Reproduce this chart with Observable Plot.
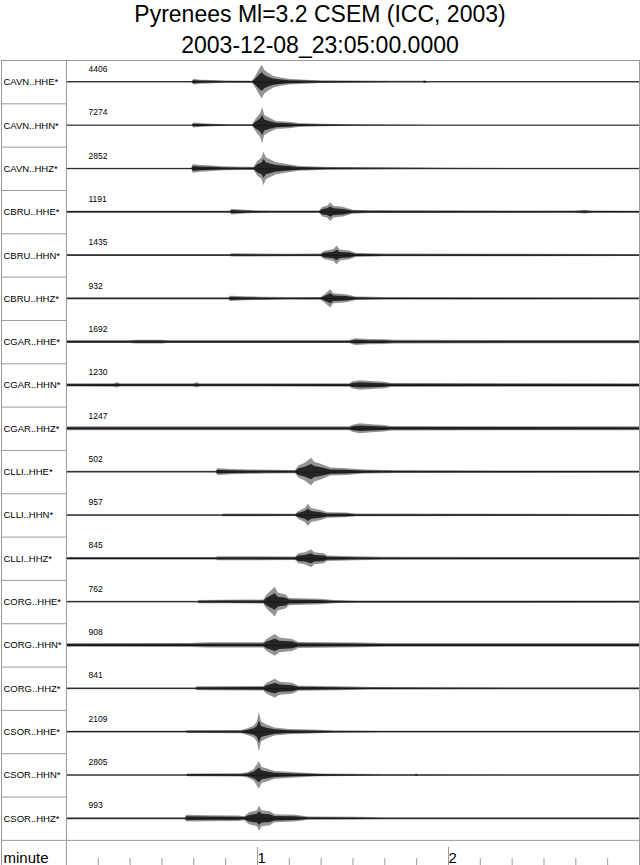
<!DOCTYPE html>
<html><head><meta charset="utf-8">
<script src="https://cdn.jsdelivr.net/npm/d3@7"></script>
<script src="https://cdn.jsdelivr.net/npm/@observablehq/plot@0.6"></script>
<style>
body{margin:0;background:#fff;}
#title{height:59px;font-family:"Liberation Sans",Arial,sans-serif;font-size:23px;text-align:center;line-height:31px;color:#000;white-space:nowrap;}
#title div{position:relative;top:-1px;}
#chart svg{display:block;}
</style></head><body>
<div id="title"><div>Pyrenees Ml=3.2 CSEM (ICC, 2003)</div><div>2003-12-08_23:05:00.0000</div></div>
<div id="chart"></div>
<script>
// Station / channel labels (top to bottom)
const stations = ["CAVN..HHE*","CAVN..HHN*","CAVN..HHZ*","CBRU..HHE*","CBRU..HHN*","CBRU..HHZ*",
  "CGAR..HHE*","CGAR..HHN*","CGAR..HHZ*","CLLI..HHE*","CLLI..HHN*","CLLI..HHZ*",
  "CORG..HHE*","CORG..HHN*","CORG..HHZ*","CSOR..HHE*","CSOR..HHN*","CSOR..HHZ*"];
// Maximum counts printed above each trace
const maxCounts = [4406,7274,2852,1191,1435,932,1692,1230,1247,502,957,845,762,908,841,2109,2805,993];

// Envelope of each trace: [seconds after 23:05:00, relative half-amplitude]
const envCAVN_HHE = [[0,.03],[39.5,.03],[40,.14],[42,.1],[46,.08],[50,.06],[58.5,.05],[59.5,.3],[60.5,.6],[61.5,.85],[62.3,.6],[63.5,.45],[65,.3],[67,.22],[70,.14],[75,.1],[80,.07],[90,.06],[103,.04],[112,.04],[112.7,.07],[113.5,.03],[180,.03]];
const envCAVN_HHN = [[0,.03],[39.5,.03],[40,.12],[43,.09],[46,.06],[52,.04],[58.5,.04],[59.5,.3],[61,.6],[61.6,.92],[62.3,.5],[64,.35],[66,.2],[70,.16],[73,.1],[80,.06],[90,.04],[115,.03],[180,.025]];
const envCAVN_HHZ = [[0,.03],[39.4,.03],[39.8,.22],[42,.17],[46,.14],[49,.1],[55,.08],[59,.08],[60,.35],[61.5,.55],[62,.85],[62.8,.55],[64,.45],[66,.3],[70,.2],[73,.12],[82,.07],[103,.05],[120,.035],[180,.03]];
const envCBRU_HHE = [[0,.05],[51.5,.05],[52,.14],[55,.11],[58.5,.07],[65,.06],[79.5,.06],[80.5,.25],[82,.3],[83,.47],[84,.3],[87,.25],[90,.1],[95,.07],[160,.06],[163,.09],[165,.06],[180,.05]];
const envCBRU_HHN = [[0,.05],[51.5,.05],[52,.08],[70,.06],[80,.07],[81,.2],[84,.3],[85,.48],[86,.28],[89,.22],[91,.1],[100,.07],[180,.05]];
const envCBRU_HHZ = [[0,.05],[51,.05],[51.6,.13],[56,.1],[61,.08],[70,.06],[80,.07],[81,.18],[83,.46],[84,.25],[88,.2],[91,.09],[100,.06],[180,.05]];
const envCGAR_HHE = [[0,.07],[20,.07],[22,.1],[30,.1],[32,.07],[89,.07],[90,.13],[91,.17],[95,.13],[100,.12],[103,.09],[180,.08]];
const envCGAR_HHN = [[0,.08],[15,.09],[16,.13],[17,.08],[40,.08],[41,.13],[42,.08],[89,.09],[90,.18],[92.3,.24],[96,.2],[100,.16],[102,.1],[180,.09]];
const envCGAR_HHZ = [[0,.1],[89,.1],[90,.18],[92.3,.25],[96,.2],[100,.16],[102,.11],[180,.1]];
const envCLLI_HHE = [[0,.04],[47,.04],[47.6,.17],[52,.13],[58,.11],[63,.09],[72,.08],[73,.3],[75,.45],[77,.7],[78,.5],[80,.4],[83,.2],[88,.17],[93.5,.1],[104,.07],[180,.05]];
const envCLLI_HHN = [[0,.04],[49,.04],[49.3,.07],[72,.06],[73,.2],[75,.35],[76,.56],[77,.35],[80,.25],[82,.14],[88,.12],[91,.07],[180,.05]];
const envCLLI_HHZ = [[0,.06],[47,.06],[47.6,.1],[72,.09],[73,.25],[75,.3],[77,.45],[78,.3],[81,.25],[82,.14],[91,.1],[100,.07],[180,.06]];
const envCORG_HHE = [[0,.04],[41.3,.04],[41.7,.08],[50,.09],[62,.1],[63,.35],[65.6,.75],[66.5,.45],[69,.35],[70,.18],[80,.14],[84,.08],[91,.06],[180,.05]];
const envCORG_HHN = [[0,.09],[39,.1],[45,.13],[62,.13],[63,.3],[65.6,.55],[67,.37],[71,.3],[73,.15],[91,.12],[100,.09],[180,.09]];
const envCORG_HHZ = [[0,.04],[40.7,.04],[41,.1],[62,.11],[63,.28],[65.6,.48],[67,.33],[71,.28],[73,.13],[86,.1],[95,.06],[180,.05]];
const envCSOR_HHE = [[0,.04],[37.5,.04],[38,.07],[55,.08],[57,.17],[59,.3],[60,.5],[60.6,1.0],[61.3,.5],[63,.35],[65.5,.2],[70,.13],[77,.1],[84,.06],[100,.04],[180,.04]];
const envCSOR_HHN = [[0,.03],[37.8,.03],[38.2,.07],[55,.08],[57,.13],[59,.3],[60.6,.68],[61.5,.4],[63,.33],[65.5,.2],[72,.13],[79.5,.07],[100,.04],[109.5,.04],[110,.07],[110.5,.04],[180,.03]];
const envCSOR_HHZ = [[0,.05],[37.4,.05],[37.8,.17],[45,.15],[54,.14],[56,.1],[57.5,.3],[60,.4],[60.6,.63],[61.5,.4],[64,.35],[65.5,.2],[72,.17],[76,.08],[91,.07],[100,.05],[180,.05]];

const envelopes = [envCAVN_HHE,envCAVN_HHN,envCAVN_HHZ,envCBRU_HHE,envCBRU_HHN,envCBRU_HHZ,
  envCGAR_HHE,envCGAR_HHN,envCGAR_HHZ,envCLLI_HHE,envCLLI_HHN,envCLLI_HHZ,
  envCORG_HHE,envCORG_HHN,envCORG_HHZ,envCSOR_HHE,envCSOR_HHN,envCSOR_HHZ];

// Time axis (minutes)
const majorTicks = [1, 2];
const minorTicks = [10,20,30,40,50,70,80,90,100,110,130,140,150,160,170].map(s => s / 60);
const tEnd = 3;            // minutes shown
const labelColumn = -0.34; // label column width, in minutes of the x scale
const axisRow = 18.58;     // y extent incl. the axis row (rows are 1 unit)
const halfRow = 0.46;      // rows per unit of relative amplitude
const coreShare = 0.55;    // darker core of each envelope

const rows = stations.map((s, i) => ({station: s, max: maxCounts[i], row: i}));
const pts = envelopes.flatMap((env, i) => env.map(([t, a]) => ({row: i, x: t / 60, mid: i + 0.5, a})));

const grey = "#9a9a9a";
const chart = Plot.plot({
  width: 640, height: 806,
  marginTop: 1, marginBottom: 0, marginLeft: 1, marginRight: 1,
  style: {fontFamily: "'Liberation Sans', Arial, sans-serif", color: "#000", background: "#fff"},
  x: {domain: [labelColumn, tEnd], axis: null},
  y: {domain: [0, axisRow], reverse: true, axis: null},
  marks: [
    Plot.ruleY(rows, {y: d => d.row + 0.5, x1: 0, x2: tEnd, stroke: "#444", strokeWidth: 0.6}),
    Plot.areaY(pts, {x: "x", y1: d => d.mid - d.a * halfRow, y2: d => d.mid + d.a * halfRow, z: "row", fill: "#000", fillOpacity: 0.42, curve: "linear"}),
    Plot.areaY(pts, {x: "x", y1: d => d.mid - d.a * halfRow * coreShare, y2: d => d.mid + d.a * halfRow * coreShare, z: "row", fill: "#000", fillOpacity: 0.75, curve: "linear"}),
    Plot.ruleY(d3.range(1, 18), {y: d => d, x1: labelColumn, x2: 0, stroke: grey}),
    Plot.ruleY([18], {y: d => d, x1: labelColumn, x2: tEnd, stroke: grey}),
    Plot.ruleX([0], {x: d => d, y1: 0, y2: axisRow, stroke: grey}),
    Plot.ruleX(minorTicks, {x: d => d, y1: axisRow, y2: axisRow - 0.16, stroke: grey}),
    Plot.ruleX(majorTicks, {x: d => d, y1: axisRow, y2: axisRow - 0.42, stroke: grey}),
    Plot.text(majorTicks, {x: d => d, y: axisRow, text: d => String(d), textAnchor: "start", lineAnchor: "bottom", dx: 0, dy: -3, fontSize: 15}),
    Plot.text(["minute"], {x: labelColumn, y: axisRow, text: d => d, textAnchor: "start", lineAnchor: "bottom", dx: 2, dy: -3, fontSize: 15}),
    Plot.text(rows, {x: labelColumn, y: d => d.row + 0.5, text: "station", textAnchor: "start", dx: 2, fontSize: 9.5}),
    Plot.text(rows, {x: 0, y: d => d.row + 0.5, text: d => String(d.max), textAnchor: "start", dx: 22, dy: -13, fontSize: 8.5}),
    Plot.frame({stroke: grey})
  ]
});
document.getElementById("chart").appendChild(chart);
</script>
</body></html>
